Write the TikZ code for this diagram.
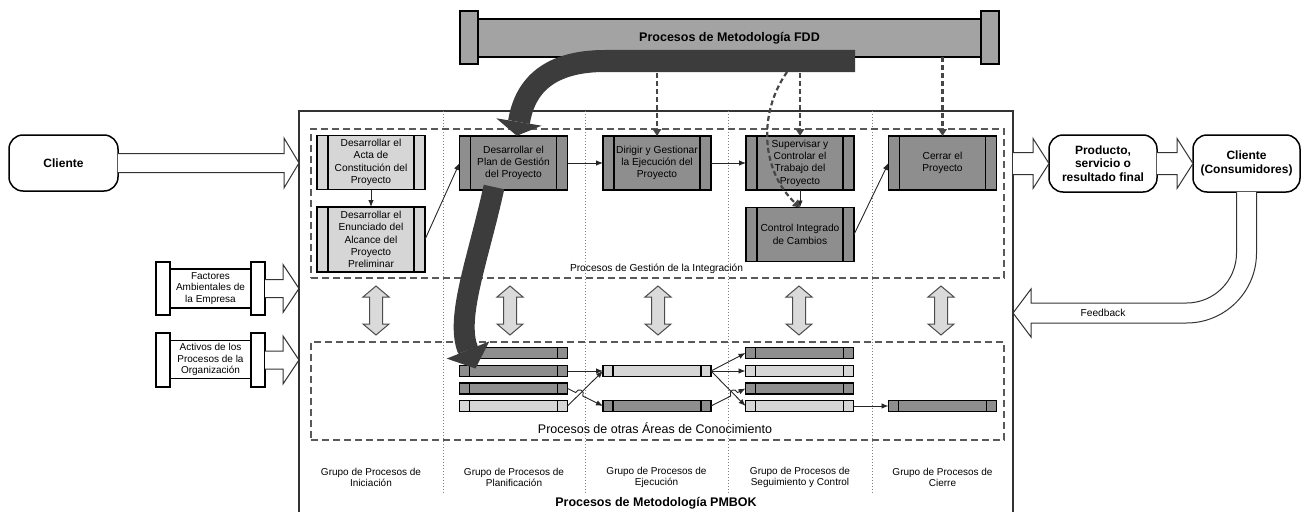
\documentclass[tikz,border=0pt]{standalone}
\usepackage{fontspec}
\setmainfont{Liberation Sans}
\usetikzlibrary{arrows.meta,calc}

\definecolor{boxlight}{HTML}{D6D6D6}
\definecolor{boxdark}{HTML}{8E8E8E}
\definecolor{bannergray}{HTML}{A3A3A3}
\definecolor{arrowdark}{HTML}{3C3C3C}
\definecolor{dashgray}{HTML}{595959}
\definecolor{fddgray}{HTML}{464646}
\definecolor{sepgray}{HTML}{808080}
\definecolor{dblfill}{HTML}{DADADA}

% horizontal hollow arrow: start, tip, shaft half height, head half height, head length
\newcommand\hollowarrow[5]{%
  \filldraw[hollow] ($(#1)+(0,-#3)$) -- ($(#2)+(-#5,-#3)$) -- ($(#2)+(-#5,-#4)$) -- (#2)
    -- ($(#2)+(-#5,#4)$) -- ($(#2)+(-#5,#3)$) -- ($(#1)+(0,#3)$);}

\begin{document}
\begin{tikzpicture}[x=1pt,y=-1pt,
  every node/.style={inner sep=0pt, outer sep=0pt},
  txt/.style={font=\fontsize{10.2}{12.3}\selectfont, align=center},
  sides/.style={path picture={
      \draw[line width=1.3pt]
        ([xshift=#1]path picture bounding box.north west) -- ([xshift=#1]path picture bounding box.south west)
        ([xshift=-#1]path picture bounding box.north east) -- ([xshift=-#1]path picture bounding box.south east);}},
  proc/.style={draw, line width=1.5pt, minimum width=108pt, minimum height=54pt, txt, sides=11pt},
  bar/.style={draw, line width=1.2pt, minimum width=108pt, minimum height=11pt, sides=10pt},
  rbox/.style={draw, line width=1.5pt, fill=white, rounded corners=14pt, align=center,
      font=\bfseries\fontsize{12}{13.5}\selectfont},
  scrollmid/.style={draw, line width=1.5pt, fill=white, minimum width=81pt, minimum height=39pt,
      align=center, font=\fontsize{10}{11.7}\selectfont},
  scrollcap/.style={draw, line width=1.5pt, fill=white, minimum width=14pt, minimum height=53pt},
  hollow/.style={draw=black!80, line width=1pt, fill=white},
  dbox/.style={draw=dashgray, line width=1.6pt, dash pattern=on 7pt off 4pt},
  sep/.style={draw=sepgray, line width=0.8pt, dash pattern=on 1pt off 2pt},
  thinarr/.style={draw=black!85, line width=0.9pt, -{Latex[length=7pt,width=5.5pt]}},
  fddarr/.style={draw=fddgray, line width=2.2pt, dash pattern=on 5pt off 3pt,
      -{Triangle[length=7pt,width=8.5pt]}},
  dbl/.style={draw=black!70, line width=1pt, fill=dblfill},
  grp/.style={font=\fontsize{10}{11.7}\selectfont, align=center}
]
\useasboundingbox (0,0) rectangle (1305,511);

% PMBOK frame, column separators and the two dashed areas
\node[draw=black!80, line width=1.2pt, minimum width=714pt, minimum height=430pt, anchor=north west] (pm) at (299,111) {};
\foreach \sx in {443,585,728,872}
  \draw[sep] (\sx,111) -- (\sx,493);
\node[dbox, minimum width=693pt, minimum height=149pt, anchor=north west] (integ) at (311,129) {};
\node[dbox, minimum width=693pt, minimum height=98pt, anchor=north west] (otras) at (311,342) {};

\node[txt] (integlbl) at (656.5,269) {Procesos de Gestión de la Integración};
\node[font=\fontsize{12.5}{14}\selectfont] (otraslbl) at (655,428) {Procesos de otras Áreas de Conocimiento};

% group labels
\node[grp] (g1) at (371,477.5) {Grupo de Procesos de\\Iniciación};
\node[grp] (g2) at (514,477.5) {Grupo de Procesos de\\Planificación};
\node[grp] (g3) at (656.5,477.5) {Grupo de Procesos de\\Ejecución};
\node[grp] (g4) at (800,477.5) {Grupo de Procesos de\\Seguimiento y Control};
\node[grp] (g5) at (942.5,477.5) {Grupo de Procesos de\\Cierre};
\node[font=\bfseries\fontsize{12.5}{14}\selectfont] (pmlbl) at (656,503) {Procesos de Metodología PMBOK};

% integration processes
\node[proc, fill=boxlight] (acta) at (371,162.5) {Desarrollar el\\Acta de\\Constitución del\\Proyecto};
\node[proc, fill=boxlight, minimum height=65pt] (enun) at (371,239.5) {Desarrollar el\\Enunciado del\\Alcance del\\Proyecto\\Preliminar};
\node[proc, fill=boxdark] (plan) at (513.5,163) {Desarrollar el\\Plan de Gestión\\del Proyecto};
\node[proc, fill=boxdark] (dir) at (657,163) {Dirigir y Gestionar\\la Ejecución del\\Proyecto};
\node[proc, fill=boxdark] (sup) at (800,163) {Supervisar y\\Controlar el\\Trabajo del\\Proyecto};
\node[proc, fill=boxdark] (ctl) at (800,234.5) {Control Integrado\\de Cambios};
\node[proc, fill=boxdark] (cer) at (942.5,163) {Cerrar el\\Proyecto};

\draw[thinarr] (acta.south) -- (enun.north);
\draw[thinarr] (enun.east) -- (plan.west);
\draw[thinarr] (plan.east) -- (dir.west);
\draw[thinarr] (dir.east) -- (sup.west);
\draw[thinarr] (sup.south) -- (ctl.north);
\draw[thinarr] (ctl.east) -- (cer.west);

% two-way arrows between the areas
\foreach \cx in {376,510,658,799,941}
  \filldraw[dbl] (\cx,286) -- (\cx+13,297) -- (\cx+6.5,297) -- (\cx+6.5,324) -- (\cx+13,324)
    -- (\cx,335) -- (\cx-13,324) -- (\cx-6.5,324) -- (\cx-6.5,297) -- (\cx-13,297) -- cycle;

% other knowledge-area processes
\node[bar, fill=boxdark]  (a1) at (513.5,353) {};
\node[bar, fill=boxdark]  (a2) at (513.5,371) {};
\node[bar, fill=boxdark]  (a3) at (513.5,388.5) {};
\node[bar, fill=boxlight] (a4) at (513.5,406) {};
\node[bar, fill=boxlight] (b2) at (657,371) {};
\node[bar, fill=boxdark]  (b4) at (657,406) {};
\node[bar, fill=boxdark]  (c1) at (799.5,353) {};
\node[bar, fill=boxlight] (c2) at (799.5,371) {};
\node[bar, fill=boxdark]  (c3) at (799.5,388.5) {};
\node[bar, fill=boxlight] (c4) at (799.5,406) {};
\node[bar, fill=boxdark]  (d4) at (942.5,406) {};

\draw[thinarr] (a2.east) -- (b2.west);
\draw[thinarr] (a4.east) -- (b2.west);
\draw[thinarr] (a3.east) -- ($(a3.east)!0.23!(b4.west)$)
   .. controls +(2.7,-5.4) and +(2.7,-5.4) .. ($(a3.east)!0.43!(b4.west)$) -- (b4.west);
\draw[thinarr] (b2.east) -- (c1.west);
\draw[thinarr] (b2.east) -- (c2.west);
\draw[thinarr] (b2.east) -- (c4.west);
\draw[thinarr] (b4.east) -- ($(b4.east)!0.57!(c3.west)$)
   .. controls +(-2.7,-5.4) and +(-2.7,-5.4) .. ($(b4.east)!0.77!(c3.west)$) -- (c3.west);
\draw[thinarr] (c4.east) -- (d4.west);

% FDD banner
\node[draw, line width=1.2pt, fill=bannergray, minimum width=503pt, minimum height=38pt,
      font=\bfseries\fontsize{12.5}{14}\selectfont] (fdd) at (729.5,38) {Procesos de Metodología FDD};
\node[draw, line width=1.2pt, fill=bannergray, minimum width=18pt, minimum height=53pt] (fddl) at (469,37.5) {};
\node[draw, line width=1.2pt, fill=bannergray, minimum width=18pt, minimum height=53pt] (fddr) at (990,37.5) {};

% FDD influence on the PMBOK processes
\coordinate (fddA) at (787,72);
\draw[fddarr] (dir.north |- fdd.south) -- (dir.north);
\draw[fddarr] (sup.north |- fdd.south) -- (sup.north);
\draw[fddarr] (cer.north |- fdd.south) -- (cer.north);
\draw[fddarr] (fddA) .. controls (757,115) and (762,172) .. (ctl.north);

% broad dark arrow: FDD -> plan -> knowledge areas
\coordinate (bandR) at (855,61);
\draw[line width=22pt, arrowdark] (bandR) -- (605,61) .. controls (550,61) and (525,85) .. (519,122);
\fill[arrowdark] (496.3,118.3) -- (541.7,125.7) -- (516.8,135.8) -- cycle;
\draw[line width=21pt, arrowdark] (494,187) .. controls (478,260) and (455,318) .. (468,350);
\fill[arrowdark] (489.3,341.4) -- (446.7,358.6) -- (475.5,368.5) -- cycle;

% inputs on the left
\node[rbox, minimum width=109pt, minimum height=56pt] (cli) at (63.5,163) {Cliente};
\node[scrollmid] (fac) at (210.5,288.5) {Factores\\Ambientales de\\la Empresa};
\node[scrollcap] (facl) at (163,288.5) {};
\node[scrollcap] (facr) at (258,288.5) {};
\node[scrollmid, minimum height=38pt] (act) at (210.5,359.5) {Activos de los\\Procesos de la\\Organización};
\node[scrollcap, minimum height=54pt] (actl) at (163,360) {};
\node[scrollcap, minimum height=54pt] (actr) at (258,360) {};

\coordinate (inCli) at (pm.north west |- cli.east);
\coordinate (inFac) at (pm.north west |- facr.east);
\coordinate (inAct) at (pm.north west |- actr.east);
\hollowarrow{cli.east}{inCli}{9.5}{25}{15}
\hollowarrow{facr.east}{inFac}{9}{24}{16}
\hollowarrow{actr.east}{inAct}{9}{24}{16}

% outputs on the right
\node[rbox, minimum width=108pt, minimum height=57pt] (prod) at (1103,163.5) {Producto,\\servicio o\\resultado final};
\node[rbox, minimum width=107pt, minimum height=57pt] (cons) at (1246.5,163.5) {Cliente\\(Consumidores)};
\coordinate (outPm) at (pm.north east |- prod.west);
\hollowarrow{outPm}{prod.west}{11}{25}{16}
\hollowarrow{prod.east}{cons.west}{11}{25}{16}

% feedback back into the PMBOK frame
\coordinate (fbT) at (1013,313);
\filldraw[hollow] ($(cons.south)+(-10,0)$) -- (1236.5,253)
   .. controls (1236.5,280.6) and (1214.1,303) .. (1186.5,303)
   -- ($(fbT)+(18,-10)$) -- ($(fbT)+(18,-24)$) -- (fbT) -- ($(fbT)+(18,24)$) -- ($(fbT)+(18,10)$)
   -- (1186.5,323) .. controls (1225.2,323) and (1256.5,291.7) .. (1256.5,253)
   -- ($(cons.south)+(10,0)$);
\node[txt] (fblbl) at (1103,313) {Feedback};

\end{tikzpicture}
\end{document}
